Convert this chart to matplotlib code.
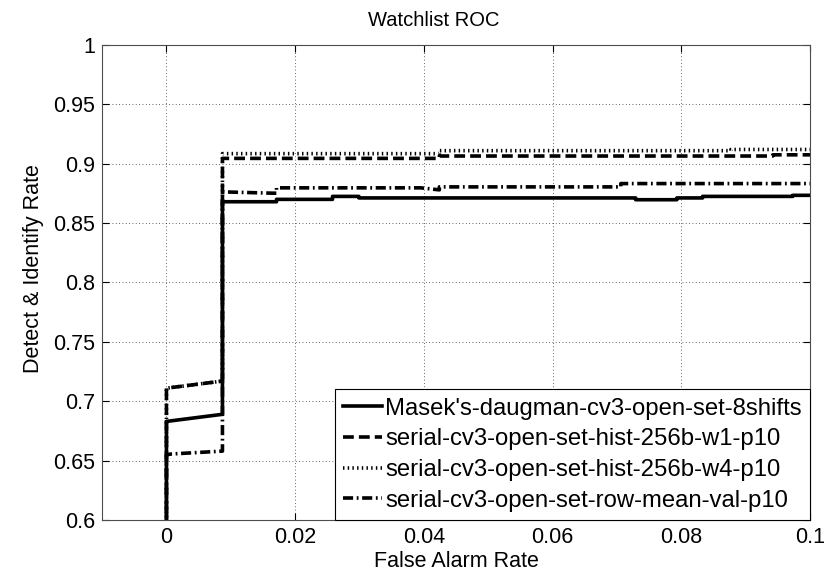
import matplotlib.pyplot as plt
from matplotlib.ticker import FuncFormatter

plt.rcParams["font.family"] = ["Liberation Sans", "DejaVu Sans"]

# curve points (false alarm rate, detect & identify rate)
masek_x = [0.0, 0.0, 0.0087, 0.0087, 0.0171, 0.0171, 0.0258, 0.0258, 0.0299,
           0.0299, 0.0729, 0.0729, 0.0793, 0.0793, 0.0833, 0.0833, 0.0973,
           0.0973, 0.1]
masek_y = [0.5, 0.683, 0.689, 0.868, 0.868, 0.870, 0.870, 0.8725, 0.8725,
           0.8712, 0.8712, 0.8697, 0.8697, 0.8712, 0.8712, 0.8725, 0.8725,
           0.8734, 0.8734]

hist_w1_x = [0.0, 0.0, 0.0087, 0.0087, 0.0424, 0.0424, 0.0942, 0.0942, 0.1]
hist_w1_y = [0.5, 0.711, 0.717, 0.9045, 0.9045, 0.9065, 0.9065, 0.9075, 0.9075]

hist_w4_x = [0.0, 0.0, 0.0087, 0.0087, 0.0424, 0.0424, 0.0877, 0.0877, 0.1]
hist_w4_y = [0.5, 0.711, 0.717, 0.9085, 0.9085, 0.911, 0.911, 0.912, 0.912]

rowmean_x = [0.0, 0.0, 0.0008, 0.0087, 0.0087, 0.0165, 0.0171, 0.0171, 0.0395,
             0.0424, 0.0424, 0.0706, 0.0706, 0.1]
rowmean_y = [0.5, 0.655, 0.6556, 0.658, 0.8763, 0.8752, 0.8752, 0.8797,
             0.8797, 0.878, 0.8805, 0.8805, 0.8833, 0.8833]

labels = ["Masek's-daugman-cv3-open-set-8shifts",
          "serial-cv3-open-set-hist-256b-w1-p10",
          "serial-cv3-open-set-hist-256b-w4-p10",
          "serial-cv3-open-set-row-mean-val-p10"]

x_ticks = [0, 0.02, 0.04, 0.06, 0.08, 0.1]
y_ticks = [0.6, 0.65, 0.7, 0.75, 0.8, 0.85, 0.9, 0.95, 1.0]

fig = plt.figure(figsize=(8.3, 5.73), dpi=100)
ax = fig.add_axes([0.123, 0.0925, 0.853, 0.829])

lw = 2.6
ax.plot(masek_x, masek_y, "-", color="k", lw=lw, label=labels[0])
ax.plot(hist_w1_x, hist_w1_y, color="k", lw=lw, dashes=(3, 1.4), label=labels[1])
ax.plot(hist_w4_x, hist_w4_y, color="k", lw=lw, dashes=(0.4, 0.9),
        label=labels[2])
ax.plot(rowmean_x, rowmean_y, color="k", lw=lw, dashes=(2.8, 1.0, 0.5, 1.0),
        label=labels[3])

ax.set_xlim(-0.01, 0.1)
ax.set_ylim(0.6, 1.0)
ax.set_xticks(x_ticks)
ax.set_yticks(y_ticks)
fmt = FuncFormatter(lambda v, p: f"{v:g}")
ax.xaxis.set_major_formatter(fmt)
ax.yaxis.set_major_formatter(fmt)
ax.tick_params(direction="in", length=5, width=0.8, labelsize=15.5,
               top=True, right=True, pad=5)
ax.grid(True, linestyle=(0, (1, 3)), color="k", linewidth=0.6, alpha=0.8)
for s in ax.spines.values():
    s.set_linewidth(0.8)
    s.set_color("0.3")

ax.set_title("Watchlist ROC", fontsize=14.5, pad=14, x=0.469)
ax.set_xlabel("False Alarm Rate", fontsize=15.5, labelpad=2)
ax.set_ylabel("Detect & Identify Rate", fontsize=15.5)
ax.yaxis.set_label_coords(-0.082, 0.53)

leg = ax.legend(loc="lower right", fontsize=17.2, frameon=True, fancybox=False,
                edgecolor="k", framealpha=1, borderpad=0.35, labelspacing=0.36,
                handlelength=1.6, handletextpad=0.15, borderaxespad=0.0)
leg.get_frame().set_linewidth(0.8)

fig.savefig("out.png", dpi=100)
